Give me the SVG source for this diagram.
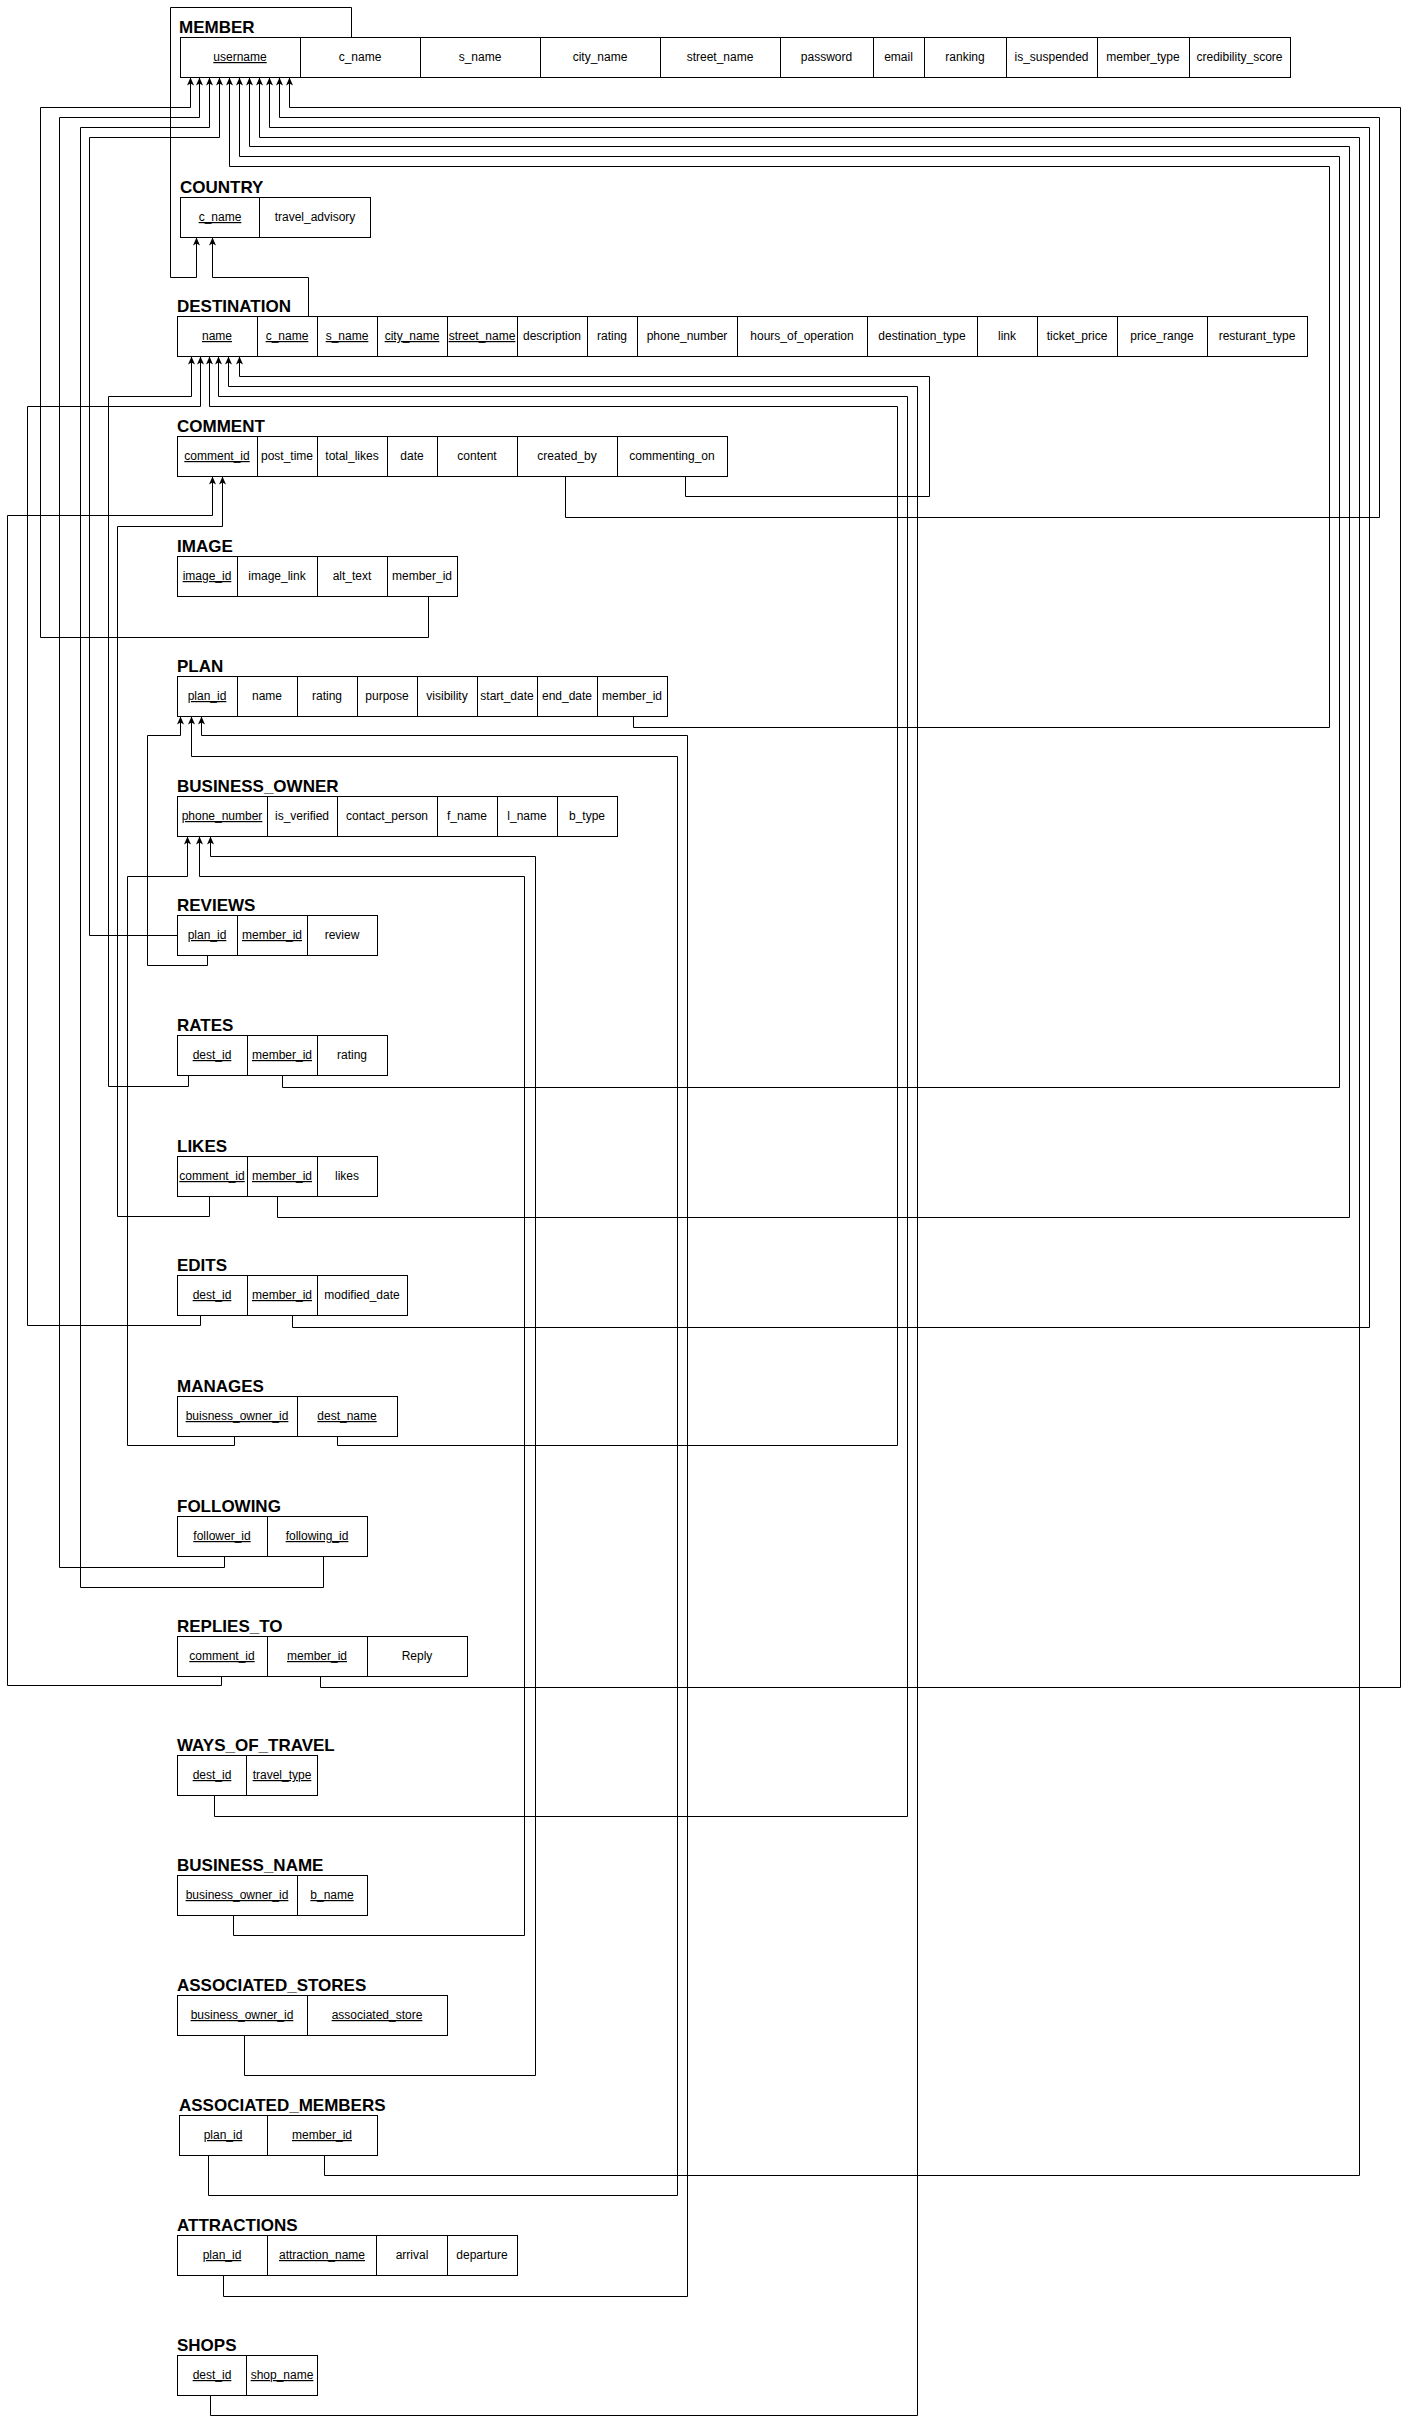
<svg xmlns="http://www.w3.org/2000/svg" width="1408" height="2425" viewBox="0 0 1408 2425">
<defs>
<style>
.bg{fill:#ffffff}
.tb{fill:#ffffff;stroke:#000;stroke-width:1}
.dv{stroke:#000;stroke-width:1}
.t{font-family:"Liberation Sans",Arial,sans-serif;font-size:17px;font-weight:bold;fill:#000}
.f{font-family:"Liberation Sans",Arial,sans-serif;font-size:12px;fill:#000;text-anchor:middle}
.u{text-decoration:underline}
.c{fill:none;stroke:#000;stroke-width:1;marker-end:url(#arr)}
.cn{fill:none;stroke:#000;stroke-width:1}
</style>
<marker id="arr" markerWidth="8" markerHeight="8" viewBox="0 0 8 8" refX="8" refY="4" orient="auto" markerUnits="userSpaceOnUse">
<path d="M0,0.5 L8,4 L0,7.5 L2,4 z" fill="#000"/>
</marker>
</defs>
<rect class="bg" x="0" y="0" width="1408" height="2425"/>

<g id="connectors">
<path class="c" d="M351.5 37.5 V7.5 H170.5 V277.5 H196.5 V237.5"/>
<path class="c" d="M308.5 316.5 V277.5 H212.5 V237.5"/>
<path class="c" d="M565.5 476.5 V517.5 H1379.5 V117.5 H279.5 V77.5"/>
<path class="c" d="M685.5 476.5 V496.5 H929.5 V376.5 H239.5 V356.5"/>
<path class="c" d="M428.5 596.5 V637.5 H40.5 V107.5 H190.5 V77.5"/>
<path class="c" d="M633.5 716.5 V727.5 H1329.5 V166.5 H229.5 V77.5"/>
<path class="c" d="M207.5 955.5 V965.5 H147.5 V735.5 H180.5 V716.5"/>
<path class="c" d="M177.5 935.5 H89.5 V137.5 H219.5 V77.5"/>
<path class="c" d="M188.5 1075.5 V1086.5 H108.5 V396.5 H191.5 V356.5"/>
<path class="c" d="M282.5 1075.5 V1087.5 H1339.5 V156.5 H239.5 V77.5"/>
<path class="c" d="M209.5 1196.5 V1216.5 H117.5 V526.5 H222.5 V476.5"/>
<path class="c" d="M277.5 1196.5 V1217.5 H1349.5 V146.5 H249.5 V77.5"/>
<path class="c" d="M200.5 1315.5 V1325.5 H27.5 V406.5 H200.5 V356.5"/>
<path class="c" d="M292.5 1315.5 V1327.5 H1369.5 V127.5 H269.5 V77.5"/>
<path class="c" d="M234.5 1436.5 V1445.5 H127.5 V876.5 H187.5 V836.5"/>
<path class="c" d="M337.5 1436.5 V1445.5 H897.5 V406.5 H209.5 V356.5"/>
<path class="c" d="M224.5 1556.5 V1567.5 H59.5 V117.5 H199.5 V77.5"/>
<path class="c" d="M323.5 1556.5 V1587.5 H80.5 V127.5 H209.5 V77.5"/>
<path class="c" d="M221.5 1676.5 V1685.5 H7.5 V515.5 H212.5 V476.5"/>
<path class="c" d="M320.5 1676.5 V1687.5 H1400.5 V107.5 H289.5 V77.5"/>
<path class="c" d="M214.5 1795.5 V1816.5 H907.5 V396.5 H218.5 V356.5"/>
<path class="c" d="M233.5 1915.5 V1935.5 H524.5 V876.5 H199.5 V836.5"/>
<path class="c" d="M244.5 2035.5 V2075.5 H535.5 V856.5 H210.5 V836.5"/>
<path class="c" d="M208.5 2155.5 V2195.5 H677.5 V756.5 H191.5 V716.5"/>
<path class="c" d="M324.5 2155.5 V2175.5 H1359.5 V137.5 H259.5 V77.5"/>
<path class="c" d="M223.5 2275.5 V2296.5 H687.5 V735.5 H201.5 V716.5"/>
<path class="c" d="M210.5 2395.5 V2415.5 H917.5 V386.5 H228.5 V356.5"/>
</g>

<g id="member">
<text class="t" x="179" y="33">MEMBER</text>
<rect class="tb" x="180.5" y="37.5" width="1110" height="40"/>
<path class="dv" d="M300.5 37.5V77.5M420.5 37.5V77.5M540.5 37.5V77.5M660.5 37.5V77.5M780.5 37.5V77.5M873.5 37.5V77.5M924.5 37.5V77.5M1006.5 37.5V77.5M1097.5 37.5V77.5M1189.5 37.5V77.5"/>
<text class="f u" x="240" y="61">username</text>
<text class="f" x="360" y="61">c_name</text>
<text class="f" x="480" y="61">s_name</text>
<text class="f" x="600" y="61">city_name</text>
<text class="f" x="720" y="61">street_name</text>
<text class="f" x="826.5" y="61">password</text>
<text class="f" x="898.5" y="61">email</text>
<text class="f" x="965" y="61">ranking</text>
<text class="f" x="1051.5" y="61">is_suspended</text>
<text class="f" x="1143" y="61">member_type</text>
<text class="f" x="1239.5" y="61">credibility_score</text>
</g>

<g id="country">
<text class="t" x="180" y="193">COUNTRY</text>
<rect class="tb" x="180.5" y="197.5" width="190" height="40"/>
<path class="dv" d="M259.5 197.5V237.5"/>
<text class="f u" x="220" y="221">c_name</text>
<text class="f" x="315" y="221">travel_advisory</text>
</g>

<g id="destination">
<text class="t" x="177" y="312">DESTINATION</text>
<rect class="tb" x="177.5" y="316.5" width="1130" height="40"/>
<path class="dv" d="M257.5 316.5V356.5M317.5 316.5V356.5M377.5 316.5V356.5M447.5 316.5V356.5M517.5 316.5V356.5M587.5 316.5V356.5M637.5 316.5V356.5M737.5 316.5V356.5M867.5 316.5V356.5M977.5 316.5V356.5M1037.5 316.5V356.5M1117.5 316.5V356.5M1207.5 316.5V356.5"/>
<text class="f u" x="217" y="340">name</text>
<text class="f u" x="287" y="340">c_name</text>
<text class="f u" x="347" y="340">s_name</text>
<text class="f u" x="412" y="340">city_name</text>
<text class="f u" x="482" y="340">street_name</text>
<text class="f" x="552" y="340">description</text>
<text class="f" x="612" y="340">rating</text>
<text class="f" x="687" y="340">phone_number</text>
<text class="f" x="802" y="340">hours_of_operation</text>
<text class="f" x="922" y="340">destination_type</text>
<text class="f" x="1007" y="340">link</text>
<text class="f" x="1077" y="340">ticket_price</text>
<text class="f" x="1162" y="340">price_range</text>
<text class="f" x="1257" y="340">resturant_type</text>
</g>

<g id="comment">
<text class="t" x="177" y="432">COMMENT</text>
<rect class="tb" x="177.5" y="436.5" width="550" height="40"/>
<path class="dv" d="M257.5 436.5V476.5M317.5 436.5V476.5M387.5 436.5V476.5M437.5 436.5V476.5M517.5 436.5V476.5M617.5 436.5V476.5"/>
<text class="f u" x="217" y="460">comment_id</text>
<text class="f" x="287" y="460">post_time</text>
<text class="f" x="352" y="460">total_likes</text>
<text class="f" x="412" y="460">date</text>
<text class="f" x="477" y="460">content</text>
<text class="f" x="567" y="460">created_by</text>
<text class="f" x="672" y="460">commenting_on</text>
</g>

<g id="image">
<text class="t" x="177" y="552">IMAGE</text>
<rect class="tb" x="177.5" y="556.5" width="280" height="40"/>
<path class="dv" d="M237.5 556.5V596.5M317.5 556.5V596.5M387.5 556.5V596.5"/>
<text class="f u" x="207" y="580">image_id</text>
<text class="f" x="277" y="580">image_link</text>
<text class="f" x="352" y="580">alt_text</text>
<text class="f" x="422" y="580">member_id</text>
</g>

<g id="plan">
<text class="t" x="177" y="672">PLAN</text>
<rect class="tb" x="177.5" y="676.5" width="490" height="40"/>
<path class="dv" d="M237.5 676.5V716.5M297.5 676.5V716.5M357.5 676.5V716.5M417.5 676.5V716.5M477.5 676.5V716.5M537.5 676.5V716.5M597.5 676.5V716.5"/>
<text class="f u" x="207" y="700">plan_id</text>
<text class="f" x="267" y="700">name</text>
<text class="f" x="327" y="700">rating</text>
<text class="f" x="387" y="700">purpose</text>
<text class="f" x="447" y="700">visibility</text>
<text class="f" x="507" y="700">start_date</text>
<text class="f" x="567" y="700">end_date</text>
<text class="f" x="632" y="700">member_id</text>
</g>

<g id="business_owner">
<text class="t" x="177" y="792">BUSINESS_OWNER</text>
<rect class="tb" x="177.5" y="796.5" width="440" height="40"/>
<path class="dv" d="M267.5 796.5V836.5M337.5 796.5V836.5M437.5 796.5V836.5M497.5 796.5V836.5M557.5 796.5V836.5"/>
<text class="f u" x="222" y="820">phone_number</text>
<text class="f" x="302" y="820">is_verified</text>
<text class="f" x="387" y="820">contact_person</text>
<text class="f" x="467" y="820">f_name</text>
<text class="f" x="527" y="820">l_name</text>
<text class="f" x="587" y="820">b_type</text>
</g>

<g id="reviews">
<text class="t" x="177" y="911">REVIEWS</text>
<rect class="tb" x="177.5" y="915.5" width="200" height="40"/>
<path class="dv" d="M237.5 915.5V955.5M307.5 915.5V955.5"/>
<text class="f u" x="207" y="939">plan_id</text>
<text class="f u" x="272" y="939">member_id</text>
<text class="f" x="342" y="939">review</text>
</g>

<g id="rates">
<text class="t" x="177" y="1031">RATES</text>
<rect class="tb" x="177.5" y="1035.5" width="210" height="40"/>
<path class="dv" d="M247.5 1035.5V1075.5M317.5 1035.5V1075.5"/>
<text class="f u" x="212" y="1059">dest_id</text>
<text class="f u" x="282" y="1059">member_id</text>
<text class="f" x="352" y="1059">rating</text>
</g>

<g id="likes">
<text class="t" x="177" y="1152">LIKES</text>
<rect class="tb" x="177.5" y="1156.5" width="200" height="40"/>
<path class="dv" d="M247.5 1156.5V1196.5M317.5 1156.5V1196.5"/>
<text class="f u" x="212" y="1180">comment_id</text>
<text class="f u" x="282" y="1180">member_id</text>
<text class="f" x="347" y="1180">likes</text>
</g>

<g id="edits">
<text class="t" x="177" y="1271">EDITS</text>
<rect class="tb" x="177.5" y="1275.5" width="230" height="40"/>
<path class="dv" d="M247.5 1275.5V1315.5M317.5 1275.5V1315.5"/>
<text class="f u" x="212" y="1299">dest_id</text>
<text class="f u" x="282" y="1299">member_id</text>
<text class="f" x="362" y="1299">modified_date</text>
</g>

<g id="manages">
<text class="t" x="177" y="1392">MANAGES</text>
<rect class="tb" x="177.5" y="1396.5" width="220" height="40"/>
<path class="dv" d="M297.5 1396.5V1436.5"/>
<text class="f u" x="237" y="1420">buisness_owner_id</text>
<text class="f u" x="347" y="1420">dest_name</text>
</g>

<g id="following">
<text class="t" x="177" y="1512">FOLLOWING</text>
<rect class="tb" x="177.5" y="1516.5" width="190" height="40"/>
<path class="dv" d="M267.5 1516.5V1556.5"/>
<text class="f u" x="222" y="1540">follower_id</text>
<text class="f u" x="317" y="1540">following_id</text>
</g>

<g id="replies_to">
<text class="t" x="177" y="1632">REPLIES_TO</text>
<rect class="tb" x="177.5" y="1636.5" width="290" height="40"/>
<path class="dv" d="M267.5 1636.5V1676.5M367.5 1636.5V1676.5"/>
<text class="f u" x="222" y="1660">comment_id</text>
<text class="f u" x="317" y="1660">member_id</text>
<text class="f" x="417" y="1660">Reply</text>
</g>

<g id="ways_of_travel">
<text class="t" x="177" y="1751">WAYS_OF_TRAVEL</text>
<rect class="tb" x="177.5" y="1755.5" width="140" height="40"/>
<path class="dv" d="M246.5 1755.5V1795.5"/>
<text class="f u" x="212" y="1779">dest_id</text>
<text class="f u" x="282" y="1779">travel_type</text>
</g>

<g id="business_name">
<text class="t" x="177" y="1871">BUSINESS_NAME</text>
<rect class="tb" x="177.5" y="1875.5" width="190" height="40"/>
<path class="dv" d="M297.5 1875.5V1915.5"/>
<text class="f u" x="237" y="1899">business_owner_id</text>
<text class="f u" x="332" y="1899">b_name</text>
</g>

<g id="associated_stores">
<text class="t" x="177" y="1991">ASSOCIATED_STORES</text>
<rect class="tb" x="177.5" y="1995.5" width="270" height="40"/>
<path class="dv" d="M307.5 1995.5V2035.5"/>
<text class="f u" x="242" y="2019">business_owner_id</text>
<text class="f u" x="377" y="2019">associated_store</text>
</g>

<g id="associated_members">
<text class="t" x="179" y="2111">ASSOCIATED_MEMBERS</text>
<rect class="tb" x="179.5" y="2115.5" width="198" height="40"/>
<path class="dv" d="M267.5 2115.5V2155.5"/>
<text class="f u" x="223" y="2139">plan_id</text>
<text class="f u" x="322" y="2139">member_id</text>
</g>

<g id="attractions">
<text class="t" x="177" y="2231">ATTRACTIONS</text>
<rect class="tb" x="177.5" y="2235.5" width="340" height="40"/>
<path class="dv" d="M267.5 2235.5V2275.5M376.5 2235.5V2275.5M447.5 2235.5V2275.5"/>
<text class="f u" x="222" y="2259">plan_id</text>
<text class="f u" x="322" y="2259">attraction_name</text>
<text class="f" x="412" y="2259">arrival</text>
<text class="f" x="482" y="2259">departure</text>
</g>

<g id="shops">
<text class="t" x="177" y="2351">SHOPS</text>
<rect class="tb" x="177.5" y="2355.5" width="140" height="40"/>
<path class="dv" d="M246.5 2355.5V2395.5"/>
<text class="f u" x="212" y="2379">dest_id</text>
<text class="f u" x="282" y="2379">shop_name</text>
</g>
</svg>
